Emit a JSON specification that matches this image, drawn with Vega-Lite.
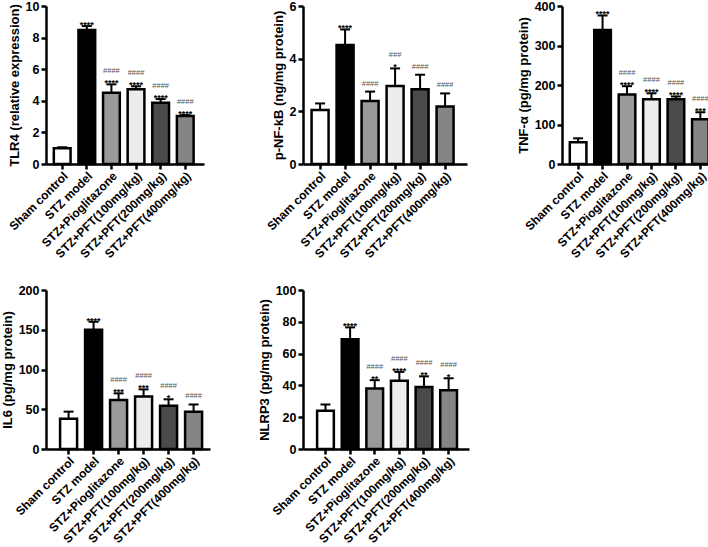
{
  "$schema": "https://vega.github.io/schema/vega-lite/v6.json",
  "padding": {"left": 1, "top": 0, "right": 0, "bottom": 0},
  "config": {
    "font": "Liberation Sans",
    "view": {"stroke": null},
    "axis": {"grid": false, "labelOverlap": false, "domainColor": "black", "domainWidth": 2.5, "tickColor": "black", "tickWidth": 2.5, "tickSize": 5, "labelFont": "Liberation Sans", "labelFontWeight": "bold", "labelFontSize": 12.5, "labelColor": "black", "titleFont": "Liberation Sans", "titleFontSize": 13, "titleFontWeight": "bold", "titleColor": "black"},
    "axisX": {"labelFontSize": 12, "labelAngle": -45, "labelPadding": 1},
    "axisY": {"labelOverlap": false}
  },
  "datasets": {
    "d": [
      {"panel": "TLR4", "group": "Sham control", "mean": 1.0, "upper": 1.06, "stars": "", "hashes": ""},
      {"panel": "TLR4", "group": "STZ model", "mean": 8.48, "upper": 8.73, "stars": "****", "hashes": ""},
      {"panel": "TLR4", "group": "STZ+Pioglitazone", "mean": 4.51, "upper": 5.04, "stars": "****", "hashes": "####"},
      {"panel": "TLR4", "group": "STZ+PFT(100mg/kg)", "mean": 4.73, "upper": 4.92, "stars": "****", "hashes": "####"},
      {"panel": "TLR4", "group": "STZ+PFT(200mg/kg)", "mean": 3.88, "upper": 4.11, "stars": "****", "hashes": "####"},
      {"panel": "TLR4", "group": "STZ+PFT(400mg/kg)", "mean": 3.04, "upper": 3.1, "stars": "****", "hashes": "####"},
      {"panel": "NFKB", "group": "Sham control", "mean": 2.05, "upper": 2.3, "stars": "", "hashes": ""},
      {"panel": "NFKB", "group": "STZ model", "mean": 4.52, "upper": 5.11, "stars": "****", "hashes": ""},
      {"panel": "NFKB", "group": "STZ+Pioglitazone", "mean": 2.39, "upper": 2.75, "stars": "", "hashes": "####"},
      {"panel": "NFKB", "group": "STZ+PFT(100mg/kg)", "mean": 2.96, "upper": 3.63, "stars": "*", "hashes": "###"},
      {"panel": "NFKB", "group": "STZ+PFT(200mg/kg)", "mean": 2.84, "upper": 3.39, "stars": "", "hashes": "####"},
      {"panel": "NFKB", "group": "STZ+PFT(400mg/kg)", "mean": 2.18, "upper": 2.68, "stars": "", "hashes": "####"},
      {"panel": "TNF", "group": "Sham control", "mean": 55, "upper": 65, "stars": "", "hashes": ""},
      {"panel": "TNF", "group": "STZ model", "mean": 339, "upper": 376, "stars": "****", "hashes": ""},
      {"panel": "TNF", "group": "STZ+Pioglitazone", "mean": 176, "upper": 197, "stars": "****", "hashes": "####"},
      {"panel": "TNF", "group": "STZ+PFT(100mg/kg)", "mean": 164, "upper": 179, "stars": "****", "hashes": "####"},
      {"panel": "TNF", "group": "STZ+PFT(200mg/kg)", "mean": 164, "upper": 171, "stars": "****", "hashes": "####"},
      {"panel": "TNF", "group": "STZ+PFT(400mg/kg)", "mean": 113, "upper": 131, "stars": "***", "hashes": "####"},
      {"panel": "IL6", "group": "Sham control", "mean": 38, "upper": 47, "stars": "", "hashes": ""},
      {"panel": "IL6", "group": "STZ model", "mean": 150, "upper": 160, "stars": "****", "hashes": ""},
      {"panel": "IL6", "group": "STZ+Pioglitazone", "mean": 61.5, "upper": 70, "stars": "***", "hashes": "####"},
      {"panel": "IL6", "group": "STZ+PFT(100mg/kg)", "mean": 66, "upper": 75, "stars": "***", "hashes": "####"},
      {"panel": "IL6", "group": "STZ+PFT(200mg/kg)", "mean": 54.5, "upper": 62.5, "stars": "*", "hashes": "####"},
      {"panel": "IL6", "group": "STZ+PFT(400mg/kg)", "mean": 47, "upper": 56, "stars": "", "hashes": "####"},
      {"panel": "NLRP3", "group": "Sham control", "mean": 24, "upper": 28, "stars": "", "hashes": ""},
      {"panel": "NLRP3", "group": "STZ model", "mean": 69, "upper": 76.5, "stars": "****", "hashes": ""},
      {"panel": "NLRP3", "group": "STZ+Pioglitazone", "mean": 38, "upper": 43.3, "stars": "**", "hashes": "####"},
      {"panel": "NLRP3", "group": "STZ+PFT(100mg/kg)", "mean": 43, "upper": 48.5, "stars": "****", "hashes": "####"},
      {"panel": "NLRP3", "group": "STZ+PFT(200mg/kg)", "mean": 39, "upper": 45.7, "stars": "**", "hashes": "####"},
      {"panel": "NLRP3", "group": "STZ+PFT(400mg/kg)", "mean": 37, "upper": 44.5, "stars": "*", "hashes": "####"}
    ]
  },
  "columns": 3,
  "align": "none",
  "bounds": "flush",
  "spacing": {"row": 126, "column": 93},
  "concat": [
    {
      "width": 158, "height": 158,
      "data": {"name": "d"},
      "transform": [{"filter": "datum.panel === 'TLR4'"}],
      "resolve": {"axis": {"y": "independent"}},
      "encoding": {"x": {"field": "group", "type": "nominal", "sort": ["Sham control", "STZ model", "STZ+Pioglitazone", "STZ+PFT(100mg/kg)", "STZ+PFT(200mg/kg)", "STZ+PFT(400mg/kg)"], "scale": {"paddingInner": 0.32, "paddingOuter": 0.37, "align": 0.43}, "axis": {"title": null, "labelAngle": -45, "labelOverlap": false}}},
      "layer": [
        {"mark": {"type": "bar", "stroke": "black", "strokeWidth": 2.5}, "encoding": {"y": {"field": "mean", "type": "quantitative", "scale": {"domain": [0, 10], "nice": false}, "axis": {"title": "TLR4 (relative expression)", "values": [0, 2, 4, 6, 8, 10], "labelOverlap": false}}, "fill": {"field": "group", "type": "nominal", "scale": {"domain": ["Sham control", "STZ model", "STZ+Pioglitazone", "STZ+PFT(100mg/kg)", "STZ+PFT(200mg/kg)", "STZ+PFT(400mg/kg)"], "range": ["#ffffff", "#000000", "#9a9a9a", "#ececec", "#4a4a4a", "#858585"]}, "legend": null}}},
        {"mark": {"type": "rule", "strokeWidth": 2, "color": "black"}, "encoding": {"y": {"field": "mean", "type": "quantitative", "axis": null}, "y2": {"field": "upper"}}},
        {"mark": {"type": "tick", "thickness": 2, "size": 10, "color": "black", "opacity": 1}, "encoding": {"y": {"field": "upper", "type": "quantitative", "axis": null}}},
        {"transform": [{"filter": "datum.stars !== ''"}], "mark": {"type": "text", "fontSize": 9, "fontWeight": "bold", "color": "black", "baseline": "alphabetic", "dy": 2}, "encoding": {"y": {"field": "upper", "type": "quantitative", "axis": null}, "text": {"field": "stars"}}},
        {"transform": [{"filter": "datum.hashes !== '' && datum.stars !== ''"}], "mark": {"type": "text", "fontSize": 7.5, "color": "#555", "baseline": "alphabetic", "dy": -11}, "encoding": {"y": {"field": "upper", "type": "quantitative", "axis": null}, "text": {"field": "hashes"}}},
        {"transform": [{"filter": "datum.hashes !== '' && datum.stars === ''"}], "mark": {"type": "text", "fontSize": 7.5, "color": "#555", "baseline": "alphabetic", "dy": -6}, "encoding": {"y": {"field": "upper", "type": "quantitative", "axis": null}, "text": {"field": "hashes"}}}
      ]
    },
    {
      "width": 164, "height": 158,
      "data": {"name": "d"},
      "transform": [{"filter": "datum.panel === 'NFKB'"}],
      "resolve": {"axis": {"y": "independent"}},
      "encoding": {"x": {"field": "group", "type": "nominal", "sort": ["Sham control", "STZ model", "STZ+Pioglitazone", "STZ+PFT(100mg/kg)", "STZ+PFT(200mg/kg)", "STZ+PFT(400mg/kg)"], "scale": {"paddingInner": 0.32, "paddingOuter": 0.44, "align": 0.39}, "axis": {"title": null, "labelAngle": -45, "labelOverlap": false}}},
      "layer": [
        {"mark": {"type": "bar", "stroke": "black", "strokeWidth": 2.5}, "encoding": {"y": {"field": "mean", "type": "quantitative", "scale": {"domain": [0, 6], "nice": false}, "axis": {"title": "p-NF-kB (ng/mg protein)", "values": [0, 2, 4, 6], "labelOverlap": false}}, "fill": {"field": "group", "type": "nominal", "scale": {"domain": ["Sham control", "STZ model", "STZ+Pioglitazone", "STZ+PFT(100mg/kg)", "STZ+PFT(200mg/kg)", "STZ+PFT(400mg/kg)"], "range": ["#ffffff", "#000000", "#9a9a9a", "#ececec", "#4a4a4a", "#858585"]}, "legend": null}}},
        {"mark": {"type": "rule", "strokeWidth": 2, "color": "black"}, "encoding": {"y": {"field": "mean", "type": "quantitative", "axis": null}, "y2": {"field": "upper"}}},
        {"mark": {"type": "tick", "thickness": 2, "size": 10, "color": "black", "opacity": 1}, "encoding": {"y": {"field": "upper", "type": "quantitative", "axis": null}}},
        {"transform": [{"filter": "datum.stars !== ''"}], "mark": {"type": "text", "fontSize": 9, "fontWeight": "bold", "color": "black", "baseline": "alphabetic", "dy": 2}, "encoding": {"y": {"field": "upper", "type": "quantitative", "axis": null}, "text": {"field": "stars"}}},
        {"transform": [{"filter": "datum.hashes !== '' && datum.stars !== ''"}], "mark": {"type": "text", "fontSize": 7.5, "color": "#555", "baseline": "alphabetic", "dy": -11}, "encoding": {"y": {"field": "upper", "type": "quantitative", "axis": null}, "text": {"field": "hashes"}}},
        {"transform": [{"filter": "datum.hashes !== '' && datum.stars === ''"}], "mark": {"type": "text", "fontSize": 7.5, "color": "#555", "baseline": "alphabetic", "dy": -6}, "encoding": {"y": {"field": "upper", "type": "quantitative", "axis": null}, "text": {"field": "hashes"}}}
      ]
    },
    {
      "width": 157, "height": 158,
      "data": {"name": "d"},
      "transform": [{"filter": "datum.panel === 'TNF'"}],
      "resolve": {"axis": {"y": "independent"}},
      "encoding": {"x": {"field": "group", "type": "nominal", "sort": ["Sham control", "STZ model", "STZ+Pioglitazone", "STZ+PFT(100mg/kg)", "STZ+PFT(200mg/kg)", "STZ+PFT(400mg/kg)"], "scale": {"paddingInner": 0.32, "paddingOuter": 0.37, "align": 0.43}, "axis": {"title": null, "labelAngle": -45, "labelOverlap": false}}},
      "layer": [
        {"mark": {"type": "bar", "stroke": "black", "strokeWidth": 2.5}, "encoding": {"y": {"field": "mean", "type": "quantitative", "scale": {"domain": [0, 400], "nice": false}, "axis": {"title": "TNF-α (pg/mg protein)", "values": [0, 100, 200, 300, 400], "labelOverlap": false}}, "fill": {"field": "group", "type": "nominal", "scale": {"domain": ["Sham control", "STZ model", "STZ+Pioglitazone", "STZ+PFT(100mg/kg)", "STZ+PFT(200mg/kg)", "STZ+PFT(400mg/kg)"], "range": ["#ffffff", "#000000", "#9a9a9a", "#ececec", "#4a4a4a", "#858585"]}, "legend": null}}},
        {"mark": {"type": "rule", "strokeWidth": 2, "color": "black"}, "encoding": {"y": {"field": "mean", "type": "quantitative", "axis": null}, "y2": {"field": "upper"}}},
        {"mark": {"type": "tick", "thickness": 2, "size": 10, "color": "black", "opacity": 1}, "encoding": {"y": {"field": "upper", "type": "quantitative", "axis": null}}},
        {"transform": [{"filter": "datum.stars !== ''"}], "mark": {"type": "text", "fontSize": 9, "fontWeight": "bold", "color": "black", "baseline": "alphabetic", "dy": 2}, "encoding": {"y": {"field": "upper", "type": "quantitative", "axis": null}, "text": {"field": "stars"}}},
        {"transform": [{"filter": "datum.hashes !== '' && datum.stars !== ''"}], "mark": {"type": "text", "fontSize": 7.5, "color": "#555", "baseline": "alphabetic", "dy": -11}, "encoding": {"y": {"field": "upper", "type": "quantitative", "axis": null}, "text": {"field": "hashes"}}},
        {"transform": [{"filter": "datum.hashes !== '' && datum.stars === ''"}], "mark": {"type": "text", "fontSize": 7.5, "color": "#555", "baseline": "alphabetic", "dy": -6}, "encoding": {"y": {"field": "upper", "type": "quantitative", "axis": null}, "text": {"field": "hashes"}}}
      ]
    },
    {
      "width": 164, "height": 159,
      "data": {"name": "d"},
      "transform": [{"filter": "datum.panel === 'IL6'"}],
      "resolve": {"axis": {"y": "independent"}},
      "encoding": {"x": {"field": "group", "type": "nominal", "sort": ["Sham control", "STZ model", "STZ+Pioglitazone", "STZ+PFT(100mg/kg)", "STZ+PFT(200mg/kg)", "STZ+PFT(400mg/kg)"], "scale": {"paddingInner": 0.32, "paddingOuter": 0.44, "align": 0.64}, "axis": {"title": null, "labelAngle": -45, "labelOverlap": false}}},
      "layer": [
        {"mark": {"type": "bar", "stroke": "black", "strokeWidth": 2.5}, "encoding": {"y": {"field": "mean", "type": "quantitative", "scale": {"domain": [0, 200], "nice": false}, "axis": {"title": "IL6 (pg/mg protein)", "values": [0, 50, 100, 150, 200], "labelOverlap": false}}, "fill": {"field": "group", "type": "nominal", "scale": {"domain": ["Sham control", "STZ model", "STZ+Pioglitazone", "STZ+PFT(100mg/kg)", "STZ+PFT(200mg/kg)", "STZ+PFT(400mg/kg)"], "range": ["#ffffff", "#000000", "#9a9a9a", "#ececec", "#4a4a4a", "#858585"]}, "legend": null}}},
        {"mark": {"type": "rule", "strokeWidth": 2, "color": "black"}, "encoding": {"y": {"field": "mean", "type": "quantitative", "axis": null}, "y2": {"field": "upper"}}},
        {"mark": {"type": "tick", "thickness": 2, "size": 10, "color": "black", "opacity": 1}, "encoding": {"y": {"field": "upper", "type": "quantitative", "axis": null}}},
        {"transform": [{"filter": "datum.stars !== ''"}], "mark": {"type": "text", "fontSize": 9, "fontWeight": "bold", "color": "black", "baseline": "alphabetic", "dy": 2}, "encoding": {"y": {"field": "upper", "type": "quantitative", "axis": null}, "text": {"field": "stars"}}},
        {"transform": [{"filter": "datum.hashes !== '' && datum.stars !== ''"}], "mark": {"type": "text", "fontSize": 7.5, "color": "#555", "baseline": "alphabetic", "dy": -11}, "encoding": {"y": {"field": "upper", "type": "quantitative", "axis": null}, "text": {"field": "hashes"}}},
        {"transform": [{"filter": "datum.hashes !== '' && datum.stars === ''"}], "mark": {"type": "text", "fontSize": 7.5, "color": "#555", "baseline": "alphabetic", "dy": -6}, "encoding": {"y": {"field": "upper", "type": "quantitative", "axis": null}, "text": {"field": "hashes"}}}
      ]
    },
    {
      "width": 166, "height": 159,
      "data": {"name": "d"},
      "transform": [{"filter": "datum.panel === 'NLRP3'"}],
      "resolve": {"axis": {"y": "independent"}},
      "encoding": {"x": {"field": "group", "type": "nominal", "sort": ["Sham control", "STZ model", "STZ+Pioglitazone", "STZ+PFT(100mg/kg)", "STZ+PFT(200mg/kg)", "STZ+PFT(400mg/kg)"], "scale": {"paddingInner": 0.32, "paddingOuter": 0.53, "align": 0.54}, "axis": {"title": null, "labelAngle": -45, "labelOverlap": false}}},
      "layer": [
        {"mark": {"type": "bar", "stroke": "black", "strokeWidth": 2.5}, "encoding": {"y": {"field": "mean", "type": "quantitative", "scale": {"domain": [0, 100], "nice": false}, "axis": {"title": "NLRP3 (pg/mg protein)", "values": [0, 20, 40, 60, 80, 100], "labelOverlap": false}}, "fill": {"field": "group", "type": "nominal", "scale": {"domain": ["Sham control", "STZ model", "STZ+Pioglitazone", "STZ+PFT(100mg/kg)", "STZ+PFT(200mg/kg)", "STZ+PFT(400mg/kg)"], "range": ["#ffffff", "#000000", "#9a9a9a", "#ececec", "#4a4a4a", "#858585"]}, "legend": null}}},
        {"mark": {"type": "rule", "strokeWidth": 2, "color": "black"}, "encoding": {"y": {"field": "mean", "type": "quantitative", "axis": null}, "y2": {"field": "upper"}}},
        {"mark": {"type": "tick", "thickness": 2, "size": 10, "color": "black", "opacity": 1}, "encoding": {"y": {"field": "upper", "type": "quantitative", "axis": null}}},
        {"transform": [{"filter": "datum.stars !== ''"}], "mark": {"type": "text", "fontSize": 9, "fontWeight": "bold", "color": "black", "baseline": "alphabetic", "dy": 2}, "encoding": {"y": {"field": "upper", "type": "quantitative", "axis": null}, "text": {"field": "stars"}}},
        {"transform": [{"filter": "datum.hashes !== '' && datum.stars !== ''"}], "mark": {"type": "text", "fontSize": 7.5, "color": "#555", "baseline": "alphabetic", "dy": -11}, "encoding": {"y": {"field": "upper", "type": "quantitative", "axis": null}, "text": {"field": "hashes"}}},
        {"transform": [{"filter": "datum.hashes !== '' && datum.stars === ''"}], "mark": {"type": "text", "fontSize": 7.5, "color": "#555", "baseline": "alphabetic", "dy": -6}, "encoding": {"y": {"field": "upper", "type": "quantitative", "axis": null}, "text": {"field": "hashes"}}}
      ]
    }
  ]
}
